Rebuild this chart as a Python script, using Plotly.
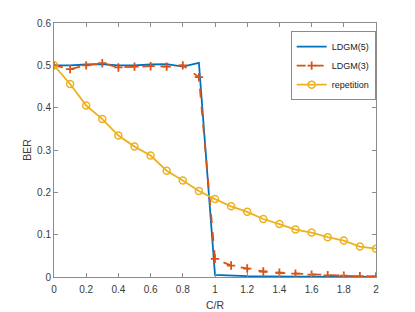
import plotly.graph_objects as go

x = [round(0.1 * i, 1) for i in range(21)]
ldgm5 = [0.5, 0.5, 0.502, 0.503, 0.5, 0.5, 0.502, 0.503, 0.497, 0.506,
         0.005, 0.003, 0.002, 0.0015, 0.001, 0.001, 0.0008, 0.0006, 0.0005, 0.0004, 0.0003]
ldgm3 = [0.5, 0.491, 0.5, 0.505, 0.495, 0.497, 0.498, 0.497, 0.5, 0.472,
         0.043, 0.027, 0.020, 0.013, 0.010, 0.008, 0.0055, 0.004, 0.003, 0.002, 0.0015]
rep = [0.5, 0.456, 0.405, 0.373, 0.334, 0.308, 0.287, 0.251, 0.228, 0.203,
       0.184, 0.167, 0.154, 0.137, 0.125, 0.112, 0.105, 0.094, 0.086, 0.072, 0.067]
xticks = [0, 0.2, 0.4, 0.6, 0.8, 1, 1.2, 1.4, 1.6, 1.8, 2]
xticklabels = ["0", "0.2", "0.4", "0.6", "0.8", "1", "1.2", "1.4", "1.6", "1.8", "2"]
yticks = [0, 0.1, 0.2, 0.3, 0.4, 0.5, 0.6]
yticklabels = ["0", "0.1", "0.2", "0.3", "0.4", "0.5", "0.6"]

fig = go.Figure()
fig.add_trace(go.Scatter(x=x, y=ldgm5, mode="lines", name="LDGM(5)",
                         line=dict(color="#0072BD", width=1.8)))
fig.add_trace(go.Scatter(x=x, y=ldgm3, mode="lines+markers", name="LDGM(3)",
                         line=dict(color="#D95319", width=1.8, dash="dash"),
                         marker=dict(symbol="cross-thin", size=6,
                                     line=dict(color="#D95319", width=1.8))))
fig.add_trace(go.Scatter(x=x, y=rep, mode="lines+markers", name="repetition",
                         line=dict(color="#EDB120", width=1.8),
                         marker=dict(symbol="circle-open", size=7,
                                     line=dict(color="#EDB120", width=1.5))))

axis_common = dict(showgrid=False, zeroline=False, showline=True, linecolor="#8c8c8c",
                   linewidth=1, mirror="ticks", ticks="inside", ticklen=4,
                   tickcolor="#8c8c8c", tickfont=dict(size=10, color="#3a3a3a"),
                   automargin=False)
fig.update_xaxes(range=[0, 2], tickvals=xticks, ticktext=xticklabels,
                 ticklabelstandoff=3,
                 title=dict(text="C/R", font=dict(size=10.5, color="#3a3a3a"), standoff=7),
                 **axis_common)
fig.update_yaxes(range=[0, 0.6], tickvals=yticks, ticktext=yticklabels,
                 title=dict(text="BER", font=dict(size=10.5, color="#3a3a3a"), standoff=3),
                 **axis_common)
fig.update_layout(
    width=415, height=312,
    margin=dict(l=46, r=47, t=15, b=43),
    paper_bgcolor="white", plot_bgcolor="white",
    font=dict(family="Liberation Sans, Arial, sans-serif", size=10, color="#3a3a3a"),
    showlegend=True,
    legend=dict(x=0.735, y=0.968, xanchor="left", yanchor="top",
                bordercolor="#8c8c8c", borderwidth=1, bgcolor="white",
                font=dict(size=9, color="#222"), itemwidth=30,
                tracegroupgap=0),
)
fig.write_html("out.html")
